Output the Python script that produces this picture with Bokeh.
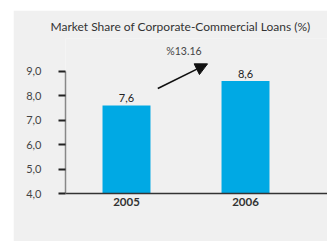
from bokeh.plotting import figure
from bokeh.models import Range1d, FixedTicker, Arrow, NormalHead, Spacer, Title
from bokeh.layouts import row, column
from bokeh.embed import file_html
from bokeh.resources import INLINE
from bokeh.core.properties import value

# ---- data ----
years = ["2005", "2006"]
shares = [7.6, 8.6]
share_labels = ["7,6", "8,6"]
y_ticks = [4, 5, 6, 7, 8, 9]
y_tick_labels = ["4,0", "5,0", "6,0", "7,0", "8,0", "9,0"]
growth_label = "%13.16"
title_text = "Market Share of Corporate-Commercial Loans (%)"

FONT = "Lato"
BG = "#f0f0f0"
BAR = "#00a9e4"

xs = list(range(len(years)))

p = figure(width=314, height=231, output_backend="svg", toolbar_location=None,
           x_range=Range1d(-0.5126, 1.689), y_range=Range1d(4, 10.337),
           min_border_left=52, min_border_right=0, min_border_top=28, min_border_bottom=48,
           background_fill_color=BG, border_fill_color=BG, outline_line_color=None)

p.add_layout(Title(text=title_text, align="left", offset=-15, standoff=10,
                   text_font=FONT, text_font_size="12px", text_font_style="normal",
                   text_color="#333333"), "above")

p.vbar(x=xs, top=shares, bottom=4, width=0.403, fill_color=BAR, line_color=None)
p.text(x=xs, y=shares, text=share_labels, text_align="center", text_baseline="bottom",
       y_offset=-3, text_font=value(FONT), text_font_size="11px", text_color="#222222")

p.add_layout(Arrow(end=NormalHead(size=12, fill_color="#111111", line_color="#111111"),
                   x_start=0.263, y_start=8.29, x_end=0.681, y_end=9.3,
                   line_width=1.6, line_color="#111111"))
p.text(x=[0.483], y=[9.846], text=[growth_label], text_align="center", text_baseline="middle",
       text_font=value(FONT), text_font_size="10.5px", text_color="#444444")

p.xgrid.visible = False
p.ygrid.visible = False

xa = p.xaxis[0]
xa.ticker = FixedTicker(ticks=xs)
xa.major_label_overrides = {i: y for i, y in zip(xs, years)}
xa.major_tick_out = 0
xa.major_tick_in = 0
xa.minor_tick_out = 0
xa.minor_tick_in = 0
xa.axis_line_color = "#333333"
xa.axis_line_width = 1.5
xa.major_label_text_font = FONT
xa.major_label_text_font_size = "11.5px"
xa.major_label_text_font_style = "bold"
xa.major_label_text_color = "#333333"
xa.major_label_standoff = 4

ya = p.yaxis[0]
ya.ticker = FixedTicker(ticks=y_ticks)
ya.major_label_overrides = {v: s for v, s in zip(y_ticks, y_tick_labels)}
ya.bounds = (4, 9)
ya.axis_line_color = "#888888"
ya.axis_line_width = 1.5
ya.major_tick_out = 7
ya.major_tick_in = 0
ya.minor_tick_out = 0
ya.minor_tick_in = 0
ya.major_tick_line_color = "#222222"
ya.major_tick_line_width = 2
ya.major_label_standoff = 17
ya.major_label_text_font = FONT
ya.major_label_text_font_size = "11px"
ya.major_label_text_color = "#444444"
ya.major_label_text_baseline = "bottom"

layout = column(Spacer(height=10), row(Spacer(width=13), p))
open("out.html", "w").write(file_html(layout, INLINE))
